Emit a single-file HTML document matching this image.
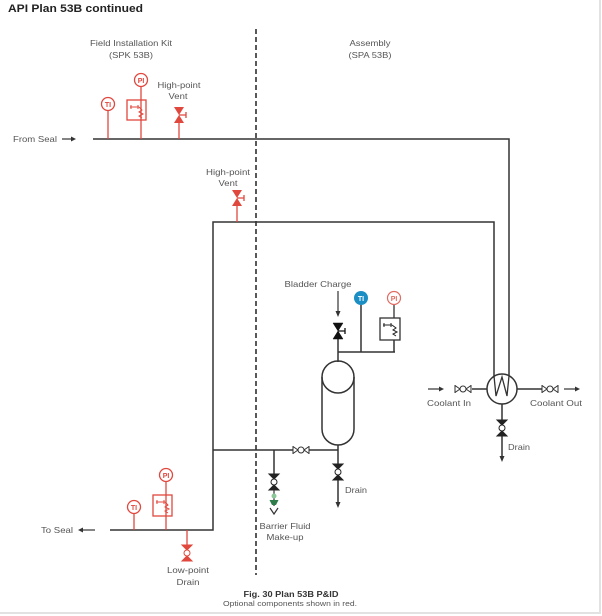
<!DOCTYPE html>
<html><head><meta charset="utf-8"><style>
html,body{margin:0;padding:0;background:#fff;}
svg{display:block;font-family:"Liberation Sans",Arial,sans-serif;}
</style></head><body>
<svg width="602" height="616" viewBox="0 0 602 616" xmlns="http://www.w3.org/2000/svg">
<rect x="0" y="0" width="602" height="616" fill="#fff"/>
<!-- frame -->
<line x1="600" y1="0" x2="600" y2="613" stroke="#e2e2e2" stroke-width="2"/>
<line x1="0" y1="613" x2="601" y2="613" stroke="#e2e2e2" stroke-width="2"/>

<!-- title -->
<text x="8" y="12" font-size="11" font-weight="bold" fill="#222" textLength="135" lengthAdjust="spacingAndGlyphs">API Plan 53B continued</text>

<!-- section labels -->
<g font-size="8.5" fill="#555" text-anchor="middle">
<text x="131" y="46" textLength="82" lengthAdjust="spacingAndGlyphs">Field Installation Kit</text>
<text x="131" y="58" textLength="44" lengthAdjust="spacingAndGlyphs">(SPK 53B)</text>
<text x="370" y="46" textLength="41" lengthAdjust="spacingAndGlyphs">Assembly</text>
<text x="370" y="58" textLength="43" lengthAdjust="spacingAndGlyphs">(SPA 53B)</text>
<text x="179" y="88" textLength="43" lengthAdjust="spacingAndGlyphs">High-point</text>
<text x="178" y="99" textLength="19" lengthAdjust="spacingAndGlyphs">Vent</text>
<text x="228" y="175" textLength="44" lengthAdjust="spacingAndGlyphs">High-point</text>
<text x="228" y="186" textLength="19" lengthAdjust="spacingAndGlyphs">Vent</text>
<text x="318" y="287" textLength="67" lengthAdjust="spacingAndGlyphs">Bladder Charge</text>
<text x="449" y="406" textLength="44" lengthAdjust="spacingAndGlyphs">Coolant In</text>
<text x="556" y="406" textLength="52" lengthAdjust="spacingAndGlyphs">Coolant Out</text>
<text x="519" y="450" textLength="22" lengthAdjust="spacingAndGlyphs">Drain</text>
<text x="356" y="493" textLength="22" lengthAdjust="spacingAndGlyphs">Drain</text>
<text x="285" y="529" textLength="51" lengthAdjust="spacingAndGlyphs">Barrier Fluid</text>
<text x="285" y="540" textLength="37" lengthAdjust="spacingAndGlyphs">Make-up</text>
<text x="188" y="573" textLength="42" lengthAdjust="spacingAndGlyphs">Low-point</text>
<text x="188" y="585" textLength="23" lengthAdjust="spacingAndGlyphs">Drain</text>
</g>
<g font-size="8.5" fill="#555">
<text x="13" y="142" textLength="44" lengthAdjust="spacingAndGlyphs">From Seal</text>
<text x="41" y="533" textLength="32" lengthAdjust="spacingAndGlyphs">To Seal</text>
</g>

<!-- caption -->
<text x="291" y="597" font-size="8" font-weight="bold" fill="#333" text-anchor="middle" textLength="95" lengthAdjust="spacingAndGlyphs">Fig. 30  Plan 53B P&amp;ID</text>
<text x="290" y="606" font-size="7.5" fill="#555" text-anchor="middle" textLength="134" lengthAdjust="spacingAndGlyphs">Optional components shown in red.</text>

<!-- dashed divider -->
<line x1="256" y1="29" x2="256" y2="575" stroke="#222" stroke-width="1.5" stroke-dasharray="5,3"/>

<!-- main piping -->
<g stroke="#333" stroke-width="1.5" fill="none">
<polyline points="93,139 509,139 509,376"/>
<polyline points="110,530 213,530 213,222 494,222 494,376"/>
<line x1="213" y1="450" x2="338" y2="450"/>
<line x1="338" y1="445" x2="338" y2="450"/>
<!-- accumulator -->
<path d="M322,377 A16,16 0 0 1 354,377 L354,429 A16,16 0 0 1 322,429 Z"/>
<path d="M322,377 A16,16 0 0 0 354,377"/>
<!-- bladder charge line -->
<line x1="338" y1="339" x2="338" y2="362"/>
<line x1="338" y1="352" x2="395" y2="352"/>
<line x1="361" y1="305" x2="361" y2="352"/>
<line x1="394" y1="340" x2="394" y2="352"/>
<rect x="380" y="318" width="20" height="22" stroke-width="1.3"/>
<!-- barrier fluid branch -->
<line x1="274" y1="450" x2="274" y2="474"/>
<!-- accumulator drain -->
<line x1="338" y1="450" x2="338" y2="505"/>
<!-- HX -->
<circle cx="502" cy="389" r="15" fill="#fff"/>
<polyline points="494,376 496,396 502,377 507,396 509,376" stroke-width="1.3"/>
<line x1="472" y1="389" x2="487" y2="389"/>
<line x1="517" y1="389" x2="542" y2="389"/>
<line x1="502" y1="404" x2="502" y2="458"/>
</g>

<!-- black arrows -->
<g stroke="#333" stroke-width="1.2" fill="#333">
<line x1="62" y1="139" x2="72" y2="139"/><polygon points="71,136.5 76,139 71,141.5" stroke="none"/>
<line x1="95" y1="530" x2="83" y2="530"/><polygon points="83,527.5 78,530 83,532.5" stroke="none"/>
<line x1="428" y1="389" x2="440" y2="389"/><polygon points="439,386.5 444,389 439,391.5" stroke="none"/>
<line x1="564" y1="389" x2="576" y2="389"/><polygon points="575,386.5 580,389 575,391.5" stroke="none"/>
<line x1="338" y1="291" x2="338" y2="312"/><polygon points="335.5,311 340.5,311 338,317" stroke="none"/>
<polygon points="335.5,502 340.5,502 338,508" stroke="none"/>
<polygon points="499.5,456 504.5,456 502,462" stroke="none"/>
<polyline points="270,508 274,514 278,508" fill="none"/>
</g>

<!-- horizontal outline valves -->
<g stroke="#333" stroke-width="1" fill="#fff">
<g transform="translate(463,389)">
<path d="M-8,-4 V4 M8,-4 V4 M-8,-3.5 L-3,0 L-8,3.5 M8,-3.5 L3,0 L8,3.5"/><circle r="3"/>
</g>
<g transform="translate(550,389)">
<path d="M-8,-4 V4 M8,-4 V4 M-8,-3.5 L-3,0 L-8,3.5 M8,-3.5 L3,0 L8,3.5"/><circle r="3"/>
</g>
<g transform="translate(301,450)">
<path d="M-8,-4 V4 M8,-4 V4 M-8,-3.5 L-3,0 L-8,3.5 M8,-3.5 L3,0 L8,3.5"/><circle r="3"/>
</g>
</g>

<!-- vertical drain valves (filled with circle) -->
<g>
<g transform="translate(338,472)" fill="#222" stroke="#222" stroke-width="1">
<path d="M-5,-8 H5 L0,-3 Z M-5,8 H5 L0,3 Z"/><circle r="3" fill="#fff"/>
</g>
<g transform="translate(502,428)" fill="#222" stroke="#222" stroke-width="1">
<path d="M-5,-8 H5 L0,-3 Z M-5,8 H5 L0,3 Z"/><circle r="3" fill="#fff"/>
</g>
<g transform="translate(274,482)" fill="#222" stroke="#222" stroke-width="1">
<path d="M-5,-8 H5 L0,-3 Z M-5,8 H5 L0,3 Z"/><circle r="3" fill="#fff"/>
</g>
</g>
<!-- green make-up connector -->
<line x1="274" y1="490" x2="274" y2="506" stroke="#333" stroke-width="1.2"/>
<circle cx="274" cy="496" r="2.5" fill="#8cc79a"/>
<path d="M269.5,500 H278.5 L276,505 H272 Z" fill="#2e7d4a"/>

<!-- bladder charge valve (black vent style) -->
<g transform="translate(338,331)" fill="#111" stroke="#111">
<path d="M-5,-8 H5 L0,0 Z M-5,8 H5 L0,0 Z" stroke-width="0.5"/>
<path d="M0,0 H7 M7,-3 V3" stroke-width="1.3" fill="none"/>
</g>

<!-- blue TI -->
<circle cx="361" cy="298" r="7" fill="#1b8ec4"/>
<text x="361" y="300.8" font-size="7" font-weight="bold" fill="#fff" text-anchor="middle">TI</text>
<!-- PI assembly -->
<line x1="394" y1="305" x2="394" y2="318" stroke="#333" stroke-width="1.3"/>
<circle cx="394" cy="298" r="6.5" fill="#fff" stroke="#e06b62" stroke-width="1.2"/>
<text x="394" y="300.8" font-size="7" font-weight="bold" fill="#e06b62" text-anchor="middle">PI</text>
<g stroke="#222" stroke-width="1" fill="none">
<path d="M383,325 H392 M384,323 V327 M391,323 V327 M392,325 L396,328 L393,330 L397,332 L393,334 L396,336"/>
</g>

<!-- RED optional components -->
<g stroke="#e0473d" fill="none" stroke-width="1.3">
<line x1="108" y1="111" x2="108" y2="139"/>
<circle cx="108" cy="104" r="6.5" fill="#fff"/>
<line x1="141" y1="87" x2="141" y2="139"/>
<circle cx="141" cy="80" r="6.5" fill="#fff"/>
<rect x="127" y="100" width="19" height="20"/>
<path d="M130,107 H139 M131,105 V109 M138,105 V109 M139,107 L142,110 L139,112 L143,114 L139,116 L142,118" stroke-width="1"/>
<line x1="179" y1="122" x2="179" y2="139"/>
<path d="M179,115 H186 M186,112 V118"/>
<line x1="237" y1="205" x2="237" y2="222"/>
<path d="M237,198 H244 M244,195 V201"/>
<line x1="134" y1="514" x2="134" y2="530"/>
<circle cx="134" cy="507" r="6.5" fill="#fff"/>
<line x1="166" y1="482" x2="166" y2="530"/>
<circle cx="166" cy="475" r="6.5" fill="#fff"/>
<rect x="153" y="495" width="19" height="21"/>
<path d="M156,502 H165 M157,500 V504 M164,500 V504 M165,502 L168,505 L165,507 L169,509 L165,511 L168,513" stroke-width="1"/>
<line x1="187" y1="530" x2="187" y2="546"/>
</g>
<g fill="#e0473d" font-size="7" font-weight="bold" text-anchor="middle">
<text x="108" y="106.8">TI</text>
<text x="141" y="82.8">PI</text>
<text x="134" y="509.8">TI</text>
<text x="166" y="477.8">PI</text>
<path d="M174,107 H184 L179,115 Z M174,123 H184 L179,115 Z"/>
<path d="M232,190 H242 L237,198 Z M232,206 H242 L237,198 Z"/>
</g>
<g transform="translate(187,553)" fill="#e0473d" stroke="#e0473d" stroke-width="1">
<path d="M-5,-8 H5 L0,-3 Z M-5,8 H5 L0,3 Z"/><circle r="3" fill="#fff"/>
</g>
</svg>
</body></html>
